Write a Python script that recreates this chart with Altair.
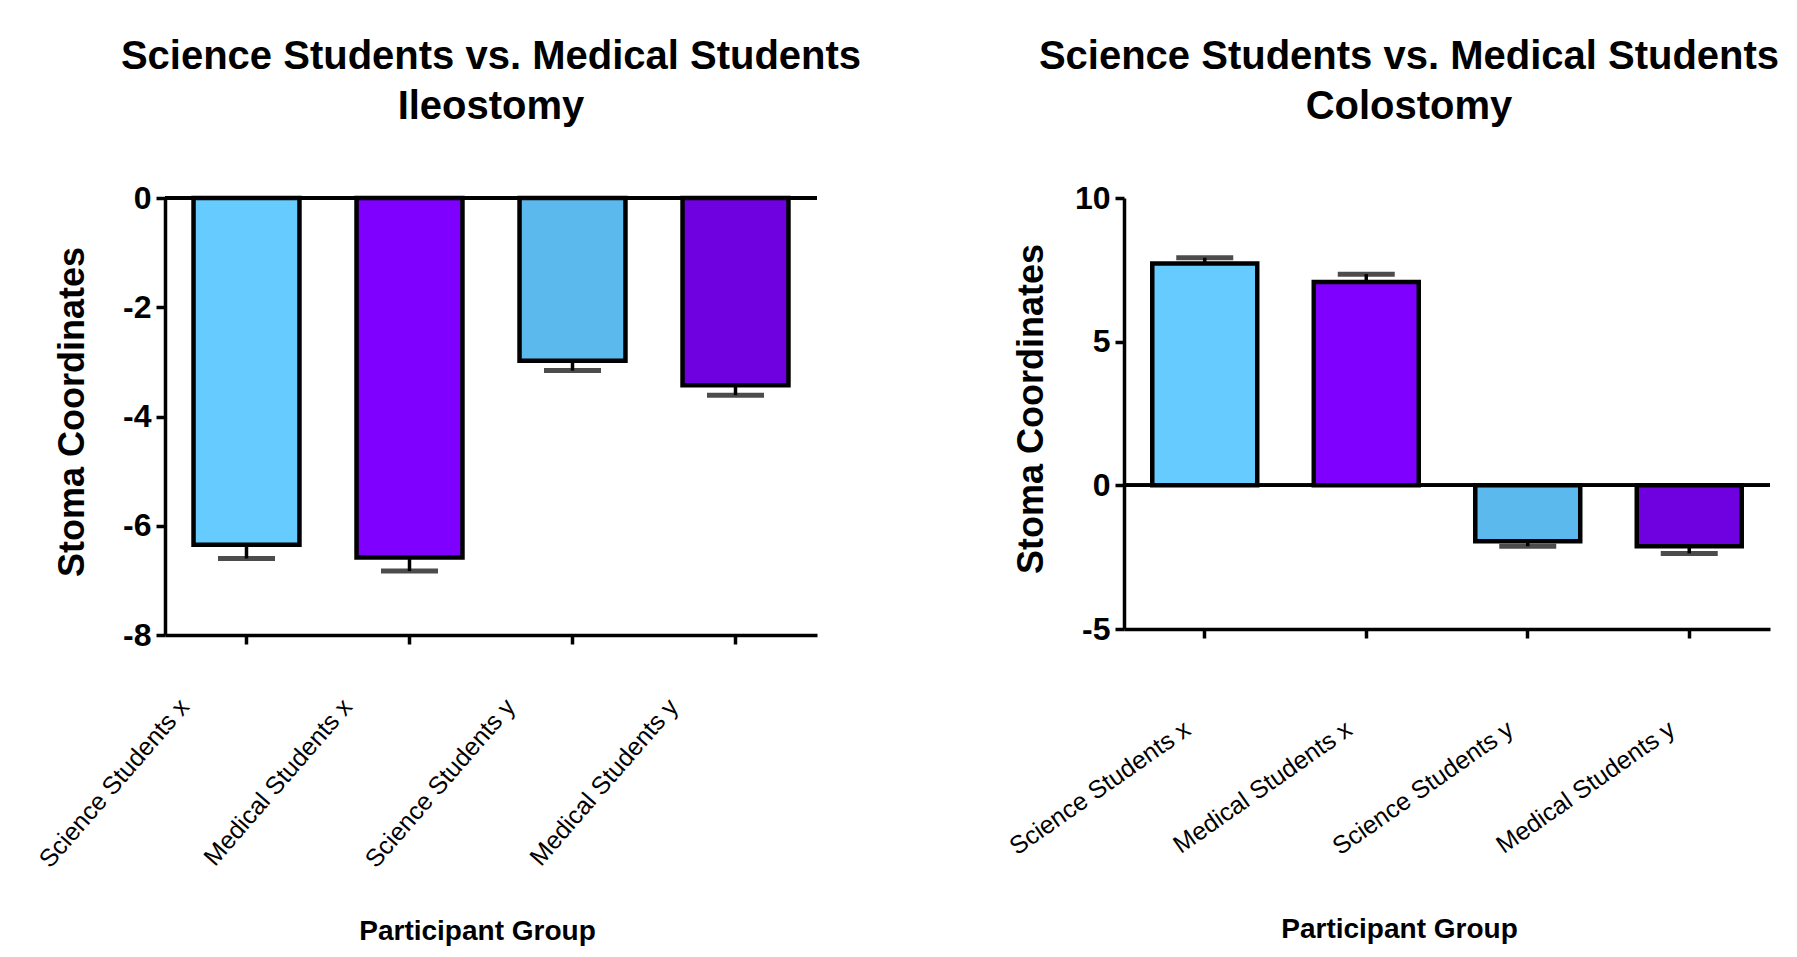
import altair as alt
import pandas as pd
import numpy as np

groups = ["Science Students x", "Medical Students x", "Science Students y", "Medical Students y"]
colors = ["#66CCFF", "#8000FF", "#5BB9EE", "#6F00E0"]

ileo_mean = [-6.35, -6.58, -2.98, -3.43]
ileo_sem = [0.25, 0.25, 0.18, 0.18]

colo_mean = [7.72, 7.08, -1.95, -2.12]
colo_sem = [0.20, 0.27, 0.17, 0.25]

FONT = "Liberation Sans"


def panel(title_lines, means, sems, ydom, yticks, w, h, label_angle, label_offset,
          label_pad, title_dx, xtitle_x, xtitle_y):
    df = pd.DataFrame({"group": groups, "mean": means, "sem": sems})
    df["end"] = df["mean"] + np.sign(df["mean"]) * df["sem"]

    x = alt.X(
        "group:N", sort=groups,
        scale=alt.Scale(paddingInner=0.35, paddingOuter=0.175),
        axis=alt.Axis(
            title="Participant Group", labelAngle=label_angle, labelAlign="right",
            labelBaseline="middle", labelOffset=label_offset, labelPadding=label_pad,
            labelFont=FONT, labelFontSize=25, labelFontWeight="normal", labelColor="black",
            labelLimit=500, grid=False,
            titleFont=FONT, titleFontSize=28, titleFontWeight="bold", titleColor="black",
            titleX=xtitle_x, titleY=xtitle_y, titleBaseline="middle", titleAlign="center",
            domainColor="black", domainWidth=3.5, tickColor="black", tickWidth=3.5, tickSize=9,
        ),
    )
    y_axis = alt.Axis(
        values=yticks, title="Stoma Coordinates", labelFont=FONT, labelFontSize=32,
        labelFontWeight="bold", labelColor="black", labelPadding=5,
        labelExpr="'' + datum.value",
        titleFont=FONT, titleFontSize=36, titleFontWeight="bold", titleColor="black",
        titleX=-93, titleY=h / 2 - 5, titleAngle=-90, titleBaseline="middle", titleAlign="center",
        domainColor="black", domainWidth=3.5, tickColor="black", tickWidth=3.5, tickSize=9,
        grid=False,
    )
    yscale = alt.Scale(domain=ydom, nice=False, zero=False)

    base = alt.Chart(df)
    err = base.mark_rule(color="black", strokeWidth=3.5).encode(
        x=x, y=alt.Y("mean:Q", scale=yscale, axis=y_axis), y2="end:Q")
    bars = base.mark_bar(stroke="black", strokeWidth=4.5).encode(
        x=x, y=alt.Y("mean:Q", scale=yscale, axis=y_axis),
        color=alt.Color("group:N", scale=alt.Scale(domain=groups, range=colors), legend=None))
    caps = base.mark_tick(color="black", thickness=5, size=57, orient="horizontal").encode(
        x=x, y=alt.Y("end:Q", scale=yscale, axis=y_axis))
    zero = base.mark_rule(color="black", strokeWidth=3.5).encode(y=alt.datum(0))

    return alt.layer(err, bars, caps, zero).properties(
        width=w, height=h,
        title=alt.TitleParams(title_lines, font=FONT, fontSize=40, fontWeight="bold",
                              color="black", anchor="middle", frame="group", offset=55,
                              lineHeight=50, dx=title_dx),
    )


left = panel(["Science Students vs. Medical Students", "Ileostomy"], ileo_mean, ileo_sem,
             [-8, 0], [0, -2, -4, -6, -8], 652, 437, -49, -62, 58, 0, 312, 296)
right = panel(["Science Students vs. Medical Students", "Colostomy"], colo_mean, colo_sem,
              [-5, 10], [10, 5, 0, -5], 646, 431, -35, -17, 88, -38, 275, 300)

chart = alt.hconcat(left, right, spacing=143).properties(
    padding={"left": 26, "top": 29, "right": 0, "bottom": 5},
    background="white",
).configure_view(stroke="transparent", strokeWidth=0)

chart.save("out.html", embed_options={"renderer": "svg", "actions": False})
